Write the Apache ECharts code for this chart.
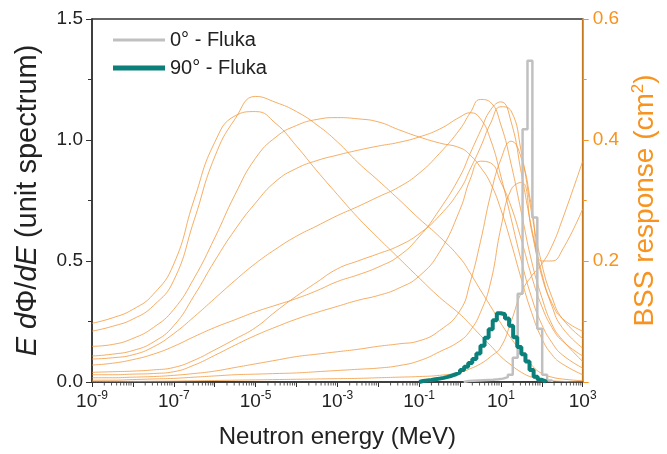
<!DOCTYPE html>
<html><head><meta charset="utf-8">
<script src="https://cdn.jsdelivr.net/npm/echarts@6/dist/echarts.min.js"></script>
<style>html,body{margin:0;padding:0;background:#fff}#c{width:667px;height:454px}</style>
</head><body><div id="c"></div>
<script>
// BSS response functions (cm^2), sampled at log10(E/MeV)
const bssLogE = [-9,-8.5,-8,-7.5,-7,-6.5,-6,-5.5,-5,-4.5,-4,-3.5,-3,-2.5,-2,-1.5,-1,-0.5,0,0.25,0.5,0.75,1,1.25,1.5,1.75,2,2.25,2.5,3];
const bss1  = [.097,.106,.120,.145,.195,.302,.396,.440,.447,.427,.390,.349,.310,.272,.238,.205,.172,.140,.112,.095,.077,.060,.042,.028,.016,.008,.004,.002,.001,0];
const bss2  = [.084,.092,.104,.126,.168,.268,.372,.435,.472,.462,.447,.425,.397,.363,.333,.302,.270,.240,.205,.180,.152,.125,.097,.072,.050,.028,.014,.008,.005,.002];
const bss3  = [.059,.062,.072,.090,.120,.172,.238,.310,.370,.405,.424,.434,.437,.435,.430,.417,.405,.395,.387,.375,.355,.328,.285,.230,.170,.115,.072,.045,.030,.012];
const bss4  = [.043,.046,.052,.066,.093,.143,.200,.252,.296,.332,.353,.366,.375,.383,.390,.396,.405,.418,.438,.445,.435,.400,.340,.270,.200,.140,.095,.065,.045,.023];
const bss5  = [.038,.040,.045,.058,.080,.108,.138,.168,.196,.220,.241,.258,.275,.290,.306,.322,.345,.378,.418,.445,.467,.462,.425,.360,.280,.200,.140,.095,.070,.034];
const bss6  = [.028,.031,.037,.046,.059,.075,.090,.103,.116,.127,.138,.151,.166,.177,.190,.208,.240,.285,.340,.378,.415,.450,.463,.430,.345,.255,.180,.125,.090,.056];
const bss7  = [.016,.017,.018,.020,.024,.036,.053,.071,.090,.117,.142,.165,.187,.200,.212,.225,.245,.275,.318,.352,.388,.428,.455,.448,.380,.280,.195,.140,.105,.072];
const bss8  = [.012,.012,.013,.014,.017,.028,.044,.061,.077,.091,.104,.115,.125,.135,.143,.155,.175,.215,.285,.335,.365,.362,.330,.290,.235,.175,.125,.090,.068,.043];
const bss9  = [.007,.007,.008,.009,.011,.014,.018,.024,.030,.036,.042,.046,.050,.054,.059,.063,.068,.085,.118,.165,.232,.310,.368,.398,.370,.290,.200,.200,.218,.286];
const bss10 = [.003,.003,.004,.005,.006,.008,.010,.012,.013,.014,.015,.017,.019,.021,.023,.027,.035,.050,.068,.085,.115,.165,.255,.318,.330,.250,.175,.130,.105,.084];
const bss11 = [.001,.001,.001,.0012,.0015,.002,.0025,.003,.0035,.004,.0045,.005,.0055,.006,.007,.008,.009,.011,.016,.022,.030,.042,.058,.100,.148,.175,.195,.225,.268,.365];

// Fluka spectra, E dPhi/dE (unit spectrum), histogram bins given by log10 edges
const fluka0LogEdges = [0.09,0.21,0.33,0.45,0.57,0.69,0.81,0.93,1.05,1.17,1.29,1.41,1.53,1.65,1.77,1.89,2.01,2.13,2.25];
const fluka0Values   = [0.004,0.005,0.006,0.007,0.008,0.009,0.011,0.014,0.020,0.030,0.100,0.365,1.044,1.327,0.680,0.220,0.030,0.006];
const fluka90LogEdges = [-1.0,-0.9,-0.8,-0.7,-0.6,-0.5,-0.4,-0.3,-0.2,-0.1,0.0,0.1,0.2,0.3,0.4,0.5,0.6,0.7,0.8,0.9,1.0,1.1,1.2,1.3,1.4,1.5,1.6,1.7,1.8,1.9,2.0,2.1];
const fluka90Values   = [0.004,0.006,0.008,0.011,0.014,0.017,0.021,0.026,0.032,0.040,0.050,0.063,0.078,0.095,0.118,0.150,0.183,0.218,0.255,0.284,0.280,0.262,0.232,0.185,0.145,0.115,0.085,0.050,0.022,0.009,0.003];

const seriesNames = ['0° - Fluka', '90° - Fluka'];

const FONT = 'Liberation Sans, Arial, Helvetica, sans-serif';
const ORANGE = '#F7931E';
const GREY = '#C0C0C0';
const TEAL = '#0B7F7A';

function histData(edges, vals) {
  const d = [[Math.pow(10, edges[0]), 0]];
  vals.forEach((v, i) => d.push([Math.pow(10, edges[i]), v]));
  d.push([Math.pow(10, edges[edges.length - 1]), 0]);
  return d;
}

const bssAll = [bss1,bss2,bss3,bss4,bss5,bss6,bss7,bss8,bss9,bss10,bss11];
const bssSeries = bssAll.map(vals => ({
  type: 'line', yAxisIndex: 1, symbol: 'none', smooth: 0.5,
  silent: true, z: 2,
  lineStyle: { color: '#F29A3F', width: 1, opacity: 0.8 },
  data: bssLogE.map((g, i) => [Math.pow(10, g), vals[i]])
}));

// log-decade minor tick positions (2..9 x 10^k)
const minorTicks = [];
for (let k = -9; k < 3; k++) for (let m = 2; m <= 9; m++) minorTicks.push([m * Math.pow(10, k), 0]);

const legendText = { fontSize: 20, color: '#222', lineHeight: 22, fontFamily: FONT };

const chart = echarts.init(document.getElementById('c'), null, { renderer: 'canvas' });
chart.setOption({
  animation: false,
  backgroundColor: '#fff',
  textStyle: { fontFamily: FONT },
  grid: { left: 92, right: 84, top: 19, bottom: 70, show: true, borderColor: '#333', borderWidth: 1.5, backgroundColor: 'transparent' },
  legend: [
    { data: [{ name: seriesNames[0], icon: 'rect', itemStyle: { color: GREY } }], left: 113, top: 29, padding: 0,
      itemWidth: 52, itemHeight: 3, textStyle: legendText },
    { data: [{ name: seriesNames[1], icon: 'rect', itemStyle: { color: TEAL } }], left: 113, top: 57, padding: 0,
      itemWidth: 52, itemHeight: 5, textStyle: legendText }
  ],
  xAxis: {
    type: 'log', logBase: 10, min: 1e-9, max: 1e3, interval: 1,
    axisLine: { show: true, onZero: false, lineStyle: { color: '#333', width: 1.5 } },
    axisTick: { show: true, length: 5, lineStyle: { color: '#333', width: 1 } },
    minorTick: { show: false },
    splitLine: { show: false },
    axisLabel: {
      margin: 8,
      formatter: v => { const e = Math.round(Math.log10(v)); return (e % 2 !== 0) ? '{b|10}{s|' + e + '}' : ''; },
      rich: {
        b: { fontSize: 19, color: '#222', fontFamily: FONT },
        s: { fontSize: 12, color: '#222', fontFamily: FONT, padding: [0, 0, 11, 0] }
      }
    },
    name: 'Neutron energy (MeV)', nameLocation: 'middle', nameGap: 43,
    nameTextStyle: { fontSize: 24, color: '#222', fontFamily: FONT }
  },
  yAxis: [
    {
      type: 'value', min: 0, max: 1.5, interval: 0.5, position: 'left',
      axisLine: { show: true, lineStyle: { color: '#333', width: 1.5 } },
      axisTick: { show: true, length: 6, lineStyle: { color: '#333', width: 1 } },
      minorTick: { show: true, splitNumber: 2, length: 4, lineStyle: { color: '#333', width: 1 } },
      splitLine: { show: false },
      axisLabel: { fontSize: 19, color: '#222', margin: 9, fontFamily: FONT, formatter: v => v.toFixed(1) },
      name: '{i|E} {i|d}Φ/{i|dE} (unit spectrum)', nameLocation: 'middle', nameGap: 50, nameRotate: 90,
      nameTextStyle: { fontSize: 29, color: '#222', fontFamily: FONT,
        rich: { i: { fontStyle: 'italic', fontSize: 29, color: '#222', fontFamily: FONT } } }
    },
    {
      type: 'value', min: 0, max: 0.6, interval: 0.2, position: 'right',
      axisLine: { show: true, lineStyle: { color: ORANGE, width: 1.5 } },
      axisTick: { show: true, length: 6, lineStyle: { color: ORANGE, width: 1 } },
      minorTick: { show: true, splitNumber: 2, length: 4, lineStyle: { color: ORANGE, width: 1 } },
      splitLine: { show: false },
      axisLabel: { fontSize: 19, color: ORANGE, margin: 10, fontFamily: FONT, formatter: v => v === 0 ? '' : v.toFixed(1) },
      name: 'BSS response (cm{s|2})', nameLocation: 'middle', nameGap: 36, nameRotate: 90,
      nameTextStyle: { fontSize: 28, color: ORANGE, fontFamily: FONT,
        rich: { s: { fontSize: 17, color: ORANGE, fontFamily: FONT, padding: [0, 0, 13, 0] } } }
    }
  ],
  series: [
    ...bssSeries,
    {
      name: seriesNames[0], type: 'line', yAxisIndex: 0, step: 'end', symbol: 'none', z: 4,
      lineStyle: { color: GREY, width: 2.5 }, itemStyle: { color: GREY },
      data: histData(fluka0LogEdges, fluka0Values)
    },
    {
      name: seriesNames[1], type: 'line', yAxisIndex: 0, step: 'end', symbol: 'none', z: 5,
      lineStyle: { color: TEAL, width: 4 }, itemStyle: { color: TEAL },
      data: histData(fluka90LogEdges, fluka90Values)
    },
    {
      type: 'scatter', yAxisIndex: 0, data: minorTicks, symbol: 'rect', symbolSize: [1, 3], symbolOffset: [0, 2],
      itemStyle: { color: '#333' }, clip: false, silent: true, z: 6
    }
  ]
});
</script>
</body></html>
